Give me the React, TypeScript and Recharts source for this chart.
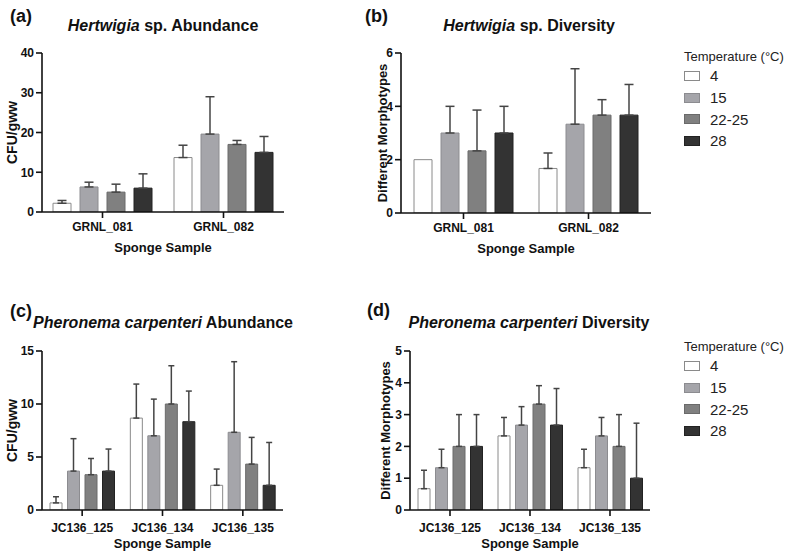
import React from "react";
import { Bar, BarChart, ErrorBar, Label, XAxis, YAxis } from "recharts";

const temperatures = ["4", "15", "22-25", "28"];
const barFills = ["#ffffff", "#a5a5aa", "#808080", "#333333"];
const barStrokes = ["#8a8a8a", "#8c8c90", "#6a6a6a", "#222222"];

// (a) Hertwigia sp. abundance, one row per sample, one value per temperature
const hertwigiaSamples = ["GRNL_081", "GRNL_082"];
const hertwigiaAbundanceMean = [
  [2.2, 6.3, 5.0, 6.0],
  [13.7, 19.6, 17.0, 15.0],
];
const hertwigiaAbundanceSd = [
  [0.7, 1.2, 2.0, 3.6],
  [3.1, 9.4, 1.0, 4.0],
];

// (b) Hertwigia sp. diversity
const hertwigiaDiversityMean = [
  [2.0, 3.0, 2.33, 3.0],
  [1.67, 3.33, 3.67, 3.67],
];
const hertwigiaDiversitySd = [
  [0, 1.0, 1.53, 1.0],
  [0.58, 2.08, 0.58, 1.15],
];

// (c) Pheronema carpenteri abundance
const pheronemaSamples = ["JC136_125", "JC136_134", "JC136_135"];
const pheronemaAbundanceMean = [
  [0.67, 3.67, 3.33, 3.67],
  [8.67, 7.0, 10.0, 8.33],
  [2.33, 7.33, 4.33, 2.33],
];
const pheronemaAbundanceSd = [
  [0.58, 3.06, 1.53, 2.08],
  [3.21, 3.46, 3.61, 2.89],
  [1.53, 6.66, 2.52, 4.04],
];

// (d) Pheronema carpenteri diversity
const pheronemaDiversityMean = [
  [0.67, 1.33, 2.0, 2.0],
  [2.33, 2.67, 3.33, 2.67],
  [1.33, 2.33, 2.0, 1.0],
];
const pheronemaDiversitySd = [
  [0.58, 0.58, 1.0, 1.0],
  [0.58, 0.58, 0.58, 1.15],
  [0.58, 0.58, 1.0, 1.73],
];

const FONT = "'Liberation Sans', Arial, sans-serif";

function buildRows(samples: string[], means: number[][], sds: number[][]) {
  return samples.map((sample, i) => {
    const row: Record<string, any> = { sample };
    temperatures.forEach((_, j) => {
      row[`m${j}`] = means[i][j];
      // no whisker when there is no spread
      row[`e${j}`] = sds[i][j] > 0 ? [0, sds[i][j]] : null;
    });
    return row;
  });
}

type PanelProps = {
  left: number;
  top: number;
  width: number;
  height: number;
  marginTop: number;
  marginRight: number;
  yWidth: number;
  xHeight: number;
  tickMargin: number;
  xLabelOffset: number;
  rows: Record<string, any>[];
  yMax: number;
  yTicks: number[];
  yLabel: string;
  yLabelSize: number;
  yLabelOffset: number;
  barSize: number;
  barGap: number;
  capWidth: number;
};

function Panel(p: PanelProps) {
  return (
    <div style={{ position: "absolute", left: p.left, top: p.top }}>
      <BarChart
        width={p.width}
        height={p.height}
        data={p.rows}
        margin={{ top: p.marginTop, right: p.marginRight, left: 0, bottom: 0 }}
        barSize={p.barSize}
        barGap={p.barGap}
      >
        <XAxis
          dataKey="sample"
          height={p.xHeight}
          axisLine={{ stroke: "#111", strokeWidth: 1.6 }}
          tickLine={{ stroke: "#111", strokeWidth: 1.6 }}
          tickSize={6}
          tickMargin={p.tickMargin}
          tick={{ fontSize: 12, fontWeight: 700, fill: "#111", fontFamily: FONT }}
        >
          <Label
            value="Sponge Sample"
            position="insideBottom"
            offset={p.xLabelOffset}
            style={{ fontSize: 13, fontWeight: 700, fill: "#111", fontFamily: FONT }}
          />
        </XAxis>
        <YAxis
          width={p.yWidth}
          domain={[0, p.yMax]}
          ticks={p.yTicks}
          allowDataOverflow
          axisLine={{ stroke: "#111", strokeWidth: 1.6 }}
          tickLine={{ stroke: "#111", strokeWidth: 1.6 }}
          tickSize={6}
          tickMargin={2}
          tick={{ fontSize: 12, fontWeight: 700, fill: "#111", fontFamily: FONT }}
        >
          <Label
            value={p.yLabel}
            angle={-90}
            position="insideLeft"
            offset={p.yLabelOffset}
            style={{
              fontSize: p.yLabelSize,
              fontWeight: 700,
              fill: "#111",
              fontFamily: FONT,
              textAnchor: "middle",
            }}
          />
        </YAxis>
        {temperatures.map((t, j) => (
          <Bar
            key={t}
            dataKey={`m${j}`}
            name={t}
            fill={barFills[j]}
            stroke={barStrokes[j]}
            strokeWidth={1}
            isAnimationActive={false}
          >
            <ErrorBar
              dataKey={`e${j}`}
              direction="y"
              width={p.capWidth}
              stroke="#444"
              strokeWidth={1.5}
              isAnimationActive={false}
            />
          </Bar>
        ))}
      </BarChart>
    </div>
  );
}

function PanelText({
  letter,
  letterX,
  letterY,
  italic,
  rest,
  titleX,
  titleY,
}: {
  letter: string;
  letterX: number;
  letterY: number;
  italic: string;
  rest: string;
  titleX: number;
  titleY: number;
}) {
  return (
    <>
      <div
        style={{
          position: "absolute",
          left: letterX,
          top: letterY,
          fontSize: 18,
          fontWeight: 700,
          lineHeight: "20px",
          color: "#111",
        }}
      >
        {letter}
      </div>
      <div
        style={{
          position: "absolute",
          left: titleX - 150,
          width: 300,
          top: titleY,
          textAlign: "center",
          fontSize: 16,
          fontWeight: 700,
          lineHeight: "18px",
          color: "#111",
          whiteSpace: "nowrap",
        }}
      >
        <i>{italic}</i> {rest}
      </div>
    </>
  );
}

function TempLegend({ left, top }: { left: number; top: number }) {
  return (
    <div style={{ position: "absolute", left, top, color: "#222" }}>
      <div style={{ fontSize: 13, lineHeight: "16px", whiteSpace: "nowrap" }}>
        Temperature (°C)
      </div>
      {temperatures.map((t, j) => (
        <div
          key={t}
          style={{
            display: "flex",
            alignItems: "center",
            height: 21.7,
            fontSize: 15,
          }}
        >
          <span
            style={{
              display: "inline-block",
              width: 14,
              height: 8,
              background: barFills[j],
              border: `1px solid ${barStrokes[j]}`,
              marginRight: 10,
            }}
          />
          {t}
        </div>
      ))}
    </div>
  );
}

export default function App() {
  return (
    <div
      style={{
        position: "absolute",
        left: 0,
        top: 0,
        width: 787,
        height: 553,
        background: "#fff",
        fontFamily: FONT,
        overflow: "hidden",
      }}
    >
      <PanelText letter="(a)" letterX={10} letterY={6} italic="Hertwigia" rest="sp. Abundance" titleX={163} titleY={17} />
      <PanelText letter="(b)" letterX={365} letterY={6} italic="Hertwigia" rest="sp. Diversity" titleX={529} titleY={17} />
      <PanelText letter="(c)" letterX={10} letterY={301} italic="Pheronema carpenteri" rest="Abundance" titleX={163} titleY={314} />
      <PanelText letter="(d)" letterX={367} letterY={300} italic="Pheronema carpenteri" rest="Diversity" titleX={529} titleY={314} />

      <Panel
        left={0}
        top={0}
        width={300}
        height={255}
        marginTop={53}
        marginRight={16}
        yWidth={42}
        xHeight={43}
        tickMargin={4}
        xLabelOffset={3}
        rows={buildRows(hertwigiaSamples, hertwigiaAbundanceMean, hertwigiaAbundanceSd)}
        yMax={40}
        yTicks={[0, 10, 20, 30, 40]}
        yLabel="CFU/gww"
        yLabelSize={14}
        yLabelOffset={12}
        barSize={18}
        barGap={9}
        capWidth={4.5}
      />
      <Panel
        left={350}
        top={0}
        width={310}
        height={256}
        marginTop={53}
        marginRight={9}
        yWidth={51}
        xHeight={43}
        tickMargin={4}
        xLabelOffset={3}
        rows={buildRows(hertwigiaSamples, hertwigiaDiversityMean, hertwigiaDiversitySd)}
        yMax={6}
        yTicks={[0, 2, 4, 6]}
        yLabel="Different Morphotypes"
        yLabelSize={13}
        yLabelOffset={32}
        barSize={18}
        barGap={9}
        capWidth={4.5}
      />
      <Panel
        left={0}
        top={280}
        width={300}
        height={273}
        marginTop={71}
        marginRight={17}
        yWidth={42}
        xHeight={43}
        tickMargin={7}
        xLabelOffset={5}
        rows={buildRows(pheronemaSamples, pheronemaAbundanceMean, pheronemaAbundanceSd)}
        yMax={15}
        yTicks={[0, 5, 10, 15]}
        yLabel="CFU/gww"
        yLabelSize={14}
        yLabelOffset={12}
        barSize={12}
        barGap={5.5}
        capWidth={3}
      />
      <Panel
        left={360}
        top={280}
        width={300}
        height={273}
        marginTop={71}
        marginRight={10}
        yWidth={50}
        xHeight={43}
        tickMargin={7}
        xLabelOffset={5}
        rows={buildRows(pheronemaSamples, pheronemaDiversityMean, pheronemaDiversitySd)}
        yMax={5}
        yTicks={[0, 1, 2, 3, 4, 5]}
        yLabel="Different Morphotypes"
        yLabelSize={13}
        yLabelOffset={25}
        barSize={12}
        barGap={5.5}
        capWidth={3}
      />

      <TempLegend left={684} top={49} />
      <TempLegend left={684} top={339} />
    </div>
  );
}
